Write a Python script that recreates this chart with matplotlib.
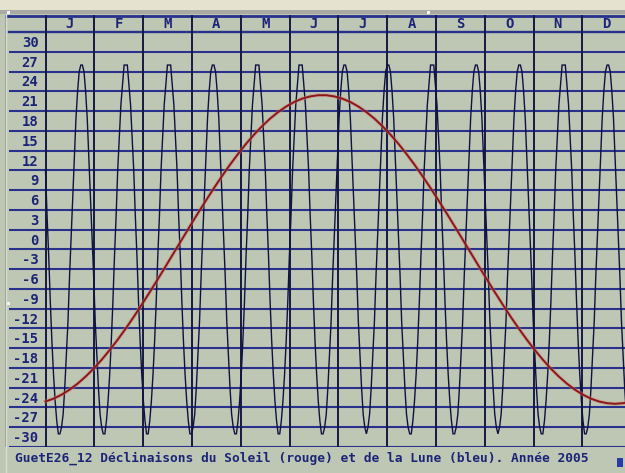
import numpy as np
import matplotlib
matplotlib.use("Agg")
import matplotlib.pyplot as plt
from matplotlib.patches import Rectangle

# ---- data -------------------------------------------------------------
month_letters = ["J", "F", "M", "A", "M", "J", "J", "A", "S", "O", "N", "D"]
y_ticks = list(range(30, -31, -3))

# Sun declination (degrees), sampled every 5 days of 2005
sun_day = [0, 5, 10, 15, 20, 25, 30, 35, 40, 45, 50, 55, 60, 65, 70, 75, 80, 85,
           90, 95, 100, 105, 110, 115, 120, 125, 130, 135, 140, 145, 150, 155,
           160, 165, 170, 175, 180, 185, 190, 195, 200, 205, 210, 215, 220, 225,
           230, 235, 240, 245, 250, 255, 260, 265, 270, 275, 280, 285, 290, 295,
           300, 305, 310, 315, 320, 325, 330, 335, 340, 345, 350, 355, 360, 364]
sun_decl = [-23.09, -22.66, -22.06, -21.30, -20.38, -19.31, -18.10, -16.75,
            -15.28, -13.70, -12.01, -10.24, -8.38, -6.47, -4.51, -2.52, -0.50,
            1.51, 3.52, 5.50, 7.43, 9.32, 11.13, 12.87, 14.50, 16.04, 17.44,
            18.72, 19.87, 20.86, 21.70, 22.39, 22.90, 23.24, 23.42, 23.42, 23.24,
            22.90, 22.39, 21.70, 20.86, 19.87, 18.72, 17.44, 16.04, 14.50, 12.87,
            11.13, 9.32, 7.43, 5.50, 3.52, 1.51, -0.50, -2.52, -4.51, -6.47,
            -8.38, -10.24, -12.01, -13.70, -15.28, -16.75, -18.10, -19.31,
            -20.38, -21.30, -22.06, -22.66, -23.09, -23.35, -23.44, -23.35,
            -23.16]

# Moon declination (degrees), one value per day, month by month
moon_jan = [12, 5, -1, -8, -14, -19, -23, -26, -28, -28, -27, -25, -21, -16, -11, -4,
            2, 8, 14, 20, 24, 27, 28, 28, 27, 24, 20, 14, 8, 2, -4]
moon_feb = [-11, -16, -21, -25, -27, -28, -28, -26, -23, -19, -14, -8, -1, 5, 12, 17,
            22, 25, 28, 28, 28, 25, 22, 17, 12, 5, -1, -8]
moon_mar = [-14, -19, -23, -26, -28, -28, -26, -23, -19, -14, -8, -1, 5, 12, 17, 22,
            25, 28, 28, 28, 25, 22, 17, 12, 5, -1, -8, -14, -19, -23, -26]
moon_apr = [-28, -28, -27, -25, -21, -16, -11, -4, 2, 8, 14, 20, 24, 27, 28, 28,
            27, 24, 20, 14, 8, 2, -4, -11, -16, -21, -25, -27, -28, -28]
moon_may = [-26, -23, -19, -14, -8, -1, 5, 12, 17, 22, 25, 28, 28, 28, 25, 22,
            17, 12, 5, -1, -8, -14, -19, -23, -26, -28, -28, -26, -23, -19, -14]
moon_jun = [-8, -1, 5, 12, 17, 22, 25, 28, 28, 28, 25, 22, 17, 12, 5, -1,
            -8, -14, -19, -23, -26, -28, -28, -27, -25, -21, -16, -11, -4, 2]
moon_jul = [8, 14, 20, 24, 27, 28, 28, 27, 24, 20, 14, 8, 2, -4, -11, -16,
            -21, -25, -27, -28, -27, -25, -21, -16, -11, -4, 2, 8, 14, 20, 24]
moon_aug = [27, 28, 28, 27, 24, 20, 14, 8, 2, -4, -11, -16, -21, -25, -27, -28,
            -28, -26, -23, -19, -14, -8, -1, 5, 12, 17, 22, 25, 28, 28, 28]
moon_sep = [25, 22, 17, 12, 5, -1, -8, -14, -19, -23, -26, -28, -28, -27, -25, -21,
            -16, -11, -4, 2, 8, 14, 20, 24, 27, 28, 28, 27, 24, 20]
moon_oct = [14, 8, 2, -4, -11, -16, -21, -25, -27, -28, -27, -25, -21, -16, -11, -4,
            2, 8, 14, 20, 24, 27, 28, 28, 27, 24, 20, 14, 8, 2, -4]
moon_nov = [-11, -16, -21, -25, -27, -28, -28, -26, -23, -19, -14, -8, -1, 5, 12, 17,
            22, 25, 28, 28, 28, 25, 22, 17, 12, 5, -1, -8, -14, -19]
moon_dec = [-23, -26, -28, -28, -27, -25, -21, -16, -11, -4, 2, 8, 14, 20, 24, 27,
            28, 28, 27, 24, 20, 14, 8, 2, -4, -11, -16, -21, -25, -27, -28]

title = "GuetE26_12 Déclinaisons du Soleil (rouge) et de la Lune (bleu). Année 2005"

# ---- styling ------------------------------------------------------------
BG = "#bec7b4"
NAVY = "#1c2478"
GRID_H = "#28318c"
GRID_V = "#161a42"
SUN = "#8e1616"
MOON = "#0e1240"
FONT = "DejaVu Sans Mono"

W, H = 625, 473
fig = plt.figure(figsize=(W / 100, H / 100), dpi=100, facecolor=BG)


def fx(px):
    return px / W


def fy(py):
    return 1 - py / H


# window strip along the top
fig.patches.append(Rectangle((0, fy(10)), 1, 10 / H, transform=fig.transFigure,
                             facecolor="#e5e2cf", edgecolor="none", zorder=0))
fig.patches.append(Rectangle((0, fy(14)), 1, 4 / H, transform=fig.transFigure,
                             facecolor="#a9aaa4", edgecolor="none", zorder=0))

# chart area: left frame at x=5 px, top frame at y=15 px, bottom line at y=447 px
left_px, right_px, top_px, bot_px = 5, 625, 15, 447
ax = fig.add_axes([fx(left_px), fy(bot_px), fx(right_px - left_px),
                   (bot_px - top_px) / H])
ax.set_facecolor(BG)

px_per_day = 1.6044
x0_px = 45.5
ax.set_xlim((left_px - x0_px) / px_per_day, (right_px - x0_px) / px_per_day)
y_top = 35.6
ax.set_ylim(-30, y_top)
for s in ax.spines.values():
    s.set_visible(False)
ax.set_xticks([])
ax.set_yticks([])

month_len = 365 / 12
x_label_col = (9 - x0_px) / px_per_day

# horizontal grid lines
for v in y_ticks:
    ax.plot([x_label_col, 400], [v, v], color=GRID_H, lw=1.5, zorder=1,
            solid_capstyle="butt")
ax.plot([x_label_col, 400], [33, 33], color=GRID_H, lw=1.7, zorder=1)
ax.plot([ax.get_xlim()[0], 400], [y_top - 0.15, y_top - 0.15], color=GRID_H,
        lw=2.0, zorder=1)

# month boundaries
for m in range(12):
    ax.plot([m * month_len] * 2, [-30, y_top], color=GRID_V, lw=1.4, zorder=1)

# left frame
ax.plot([ax.get_xlim()[0] + 0.6] * 2, [-30, y_top], color="#8a8f8a", lw=1.2,
        zorder=1)

# month letters
for m, lab in enumerate(month_letters):
    ax.text((m + 0.5) * month_len, 34.3, lab, ha="center", va="center",
            fontsize=10, fontweight="bold", family=FONT, color=NAVY, zorder=3)

# y labels, written just above their lines
x_lab = (38.5 - x0_px) / px_per_day
for v in y_ticks:
    ax.text(x_lab, v + 1.35, str(v), ha="right", va="center", fontsize=10,
            fontweight="bold", family=FONT, color=NAVY, zorder=3)

# moon
moon = (moon_jan + moon_feb + moon_mar + moon_apr + moon_may + moon_jun +
        moon_jul + moon_aug + moon_sep + moon_oct + moon_nov + moon_dec)
moon_day = np.arange(len(moon))
ax.plot(moon_day, moon, color=MOON, lw=1.0, zorder=4, solid_joinstyle="miter")

# sun
ax.plot(sun_day, sun_decl, color="#c98080", lw=2.8, alpha=0.45, zorder=5)
ax.plot(sun_day, sun_decl, color=SUN, lw=1.4, zorder=6)

# caption
fig.text(fx(15), fy(458), title, ha="left", va="center", fontsize=9.3,
         fontweight="bold", family=FONT, color=NAVY)
fig.patches.append(Rectangle((fx(617), fy(467)), 6 / W, 9 / H,
                             transform=fig.transFigure, facecolor="#2a3aa8",
                             edgecolor="none"))

# left frame continues down past the chart
fig.add_artist(plt.Line2D([fx(5.5), fx(5.5)], [0, fy(14)], color="#d8dcd2",
                          lw=1.0, transform=fig.transFigure))

# small selection handles
for hx, hy in [(8, 13), (428, 13), (8, 303)]:
    fig.patches.append(Rectangle((fx(hx - 1.5), fy(hy + 1.5)), 3 / W, 3 / H,
                                 transform=fig.transFigure,
                                 facecolor="#f4f4f4", edgecolor="none",
                                 zorder=10))

fig.savefig("out.png", dpi=100, facecolor=BG)
